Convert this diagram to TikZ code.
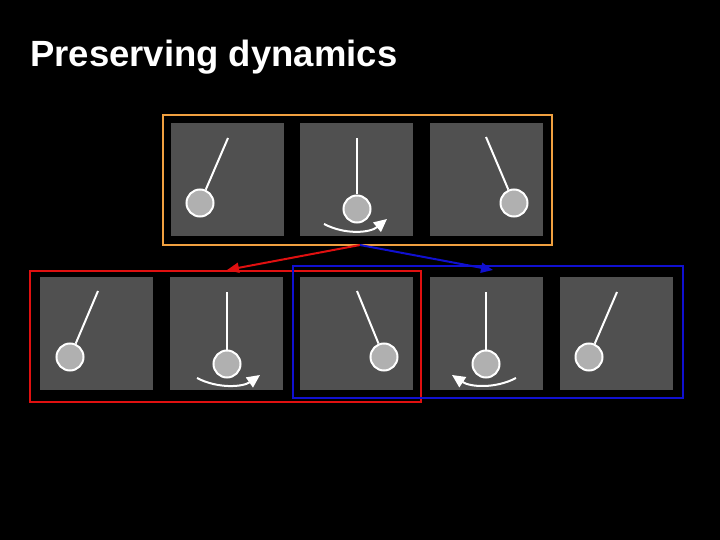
\documentclass[tikz,border=0pt]{standalone}
\usepackage{fontspec}
\setmainfont{Liberation Sans}
\usetikzlibrary{arrows.meta}
\definecolor{panel}{HTML}{505050}
\definecolor{bob}{HTML}{B0B0B0}
\definecolor{org}{HTML}{F0A040}
\definecolor{rd}{HTML}{E01010}
\definecolor{bl}{HTML}{1010D0}
\begin{document}
\begin{tikzpicture}[x=1pt,y=-1pt,
  pan/.style={fill=panel,draw=none},
  rod/.style={white,line width=2pt},
  bobst/.style={circle,fill=bob,draw=white,line width=2pt,minimum size=27pt,inner sep=0pt},
  swing/.style={white,line width=2pt,-{Triangle[length=13pt,width=12pt]}},
  grp/.style={line width=2pt}]
\fill[black] (0,0) rectangle (720,540);
\useasboundingbox (0,0) rectangle (720,540);
\node[anchor=base west,font=\bfseries\fontsize{36.5}{42}\selectfont,text=white,inner sep=0] (title) at (30,67) {Preserving dynamics};
% panels
\foreach \x in {171,300,430} \fill[pan] (\x,123) rectangle ++(113,113);
\foreach \x in {40,170,300,430,560} \fill[pan] (\x,277) rectangle ++(113,113);
% pendulums
\newcommand{\pend}[5]{\coordinate (#5t) at (#1,#2); \node[bobst] (#5b) at (#3,#4) {}; \draw[rod] (#5t) -- (#5b);}
\pend{228}{138}{200}{203}{a}
\pend{357}{138}{357}{209}{b}
\pend{486}{137}{514}{203}{c}
\pend{98}{291}{70}{357}{d}
\pend{227}{292}{227}{364}{e}
\pend{357}{291}{384}{357}{f}
\pend{486}{292}{486}{364}{g}
\pend{617}{292}{589}{357}{h}
\coordinate (s1) at (324,224); \coordinate (s1e) at (387,219);
\draw[swing] (s1) .. controls (345,235) and (370,233) .. (s1e);
\coordinate (s2) at (197,378); \coordinate (s2e) at (260,375);
\draw[swing] (s2) .. controls (218,389) and (243,387) .. (s2e);
\coordinate (s3) at (516,378); \coordinate (s3e) at (452,375);
\draw[swing] (s3) .. controls (495,389) and (470,387) .. (s3e);
% group boxes
\draw[grp,org] (163,115) rectangle (552,245);
\draw[grp,rd] (30,271) rectangle (421,402);
\draw[grp,bl] (293,266) rectangle (683,398);
\coordinate (src) at (360,245);
\coordinate (rdt) at (227,270);
\coordinate (blt) at (493,270);
\draw[grp,rd,-{Triangle[length=12pt,width=10pt]}] (src) -- (rdt);
\draw[grp,bl,-{Triangle[length=12pt,width=10pt]}] (src) -- (blt);
\end{tikzpicture}
\end{document}
